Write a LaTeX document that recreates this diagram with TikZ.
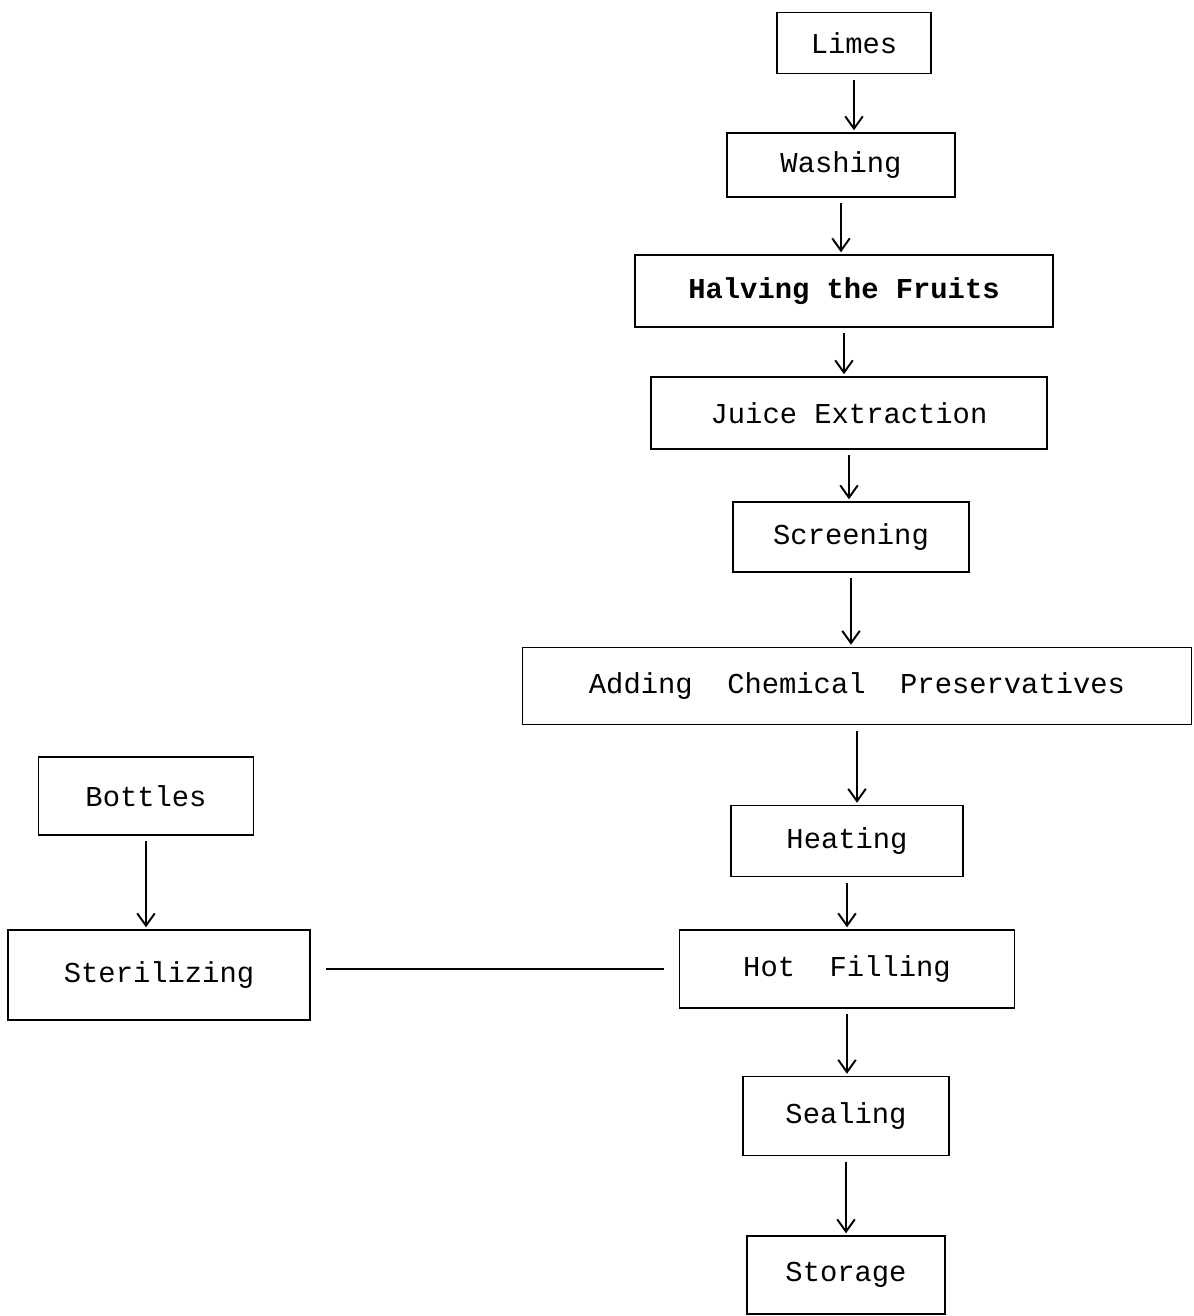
\documentclass[tikz,border=0pt]{standalone}
\usepackage{fontspec}
\setmonofont{Liberation Mono}
\usetikzlibrary{arrows.meta}
\begin{document}
\begin{tikzpicture}[
  proc/.style={draw,line width=1.1pt,inner sep=0pt,font=\ttfamily\fontsize{16.4}{19}\selectfont},
  flow/.style={line width=1.1pt,-{Straight Barb[length=7pt,width=10pt]},shorten <=3pt,shorten >=1pt}]
\useasboundingbox (0,0) rectangle (23.88,-26.32);
% main line
\node[proc,minimum width=3.08cm,minimum height=1.22cm] (limes) at (17.08,-0.86) {Limes};
\node[proc,minimum width=4.56cm,minimum height=1.28cm] (washing) at (16.82,-3.30) {Washing};
\node[proc,minimum width=8.36cm,minimum height=1.44cm,font=\ttfamily\bfseries\fontsize{16.4}{19}\selectfont] (halving) at (16.88,-5.82) {Halving the Fruits};
\node[proc,minimum width=7.92cm,minimum height=1.44cm] (juice) at (16.98,-8.26) {Juice Extraction};
\node[proc,minimum width=4.72cm,minimum height=1.40cm] (screening) at (17.02,-10.74) {Screening};
\node[proc,minimum width=13.38cm,minimum height=1.54cm] (adding) at (17.14,-13.72) {Adding\ \ Chemical\ \ Preservatives};
\node[proc,minimum width=4.64cm,minimum height=1.42cm] (heating) at (16.94,-16.82) {Heating};
\node[proc,minimum width=6.70cm,minimum height=1.56cm] (hotfill) at (16.94,-19.38) {Hot\ \ Filling};
\node[proc,minimum width=4.12cm,minimum height=1.58cm] (sealing) at (16.92,-22.32) {Sealing};
\node[proc,minimum width=3.96cm,minimum height=1.56cm] (storage) at (16.92,-25.50) {Storage};
% bottles
\node[proc,minimum width=4.30cm,minimum height=1.56cm] (bottles) at (2.92,-15.92) {Bottles};
\node[proc,minimum width=6.04cm,minimum height=1.80cm] (steril) at (3.18,-19.50) {Sterilizing};
% arrows
\draw[flow] (limes) -- (limes |- washing.north);
\draw[flow] (washing) -- (washing |- halving.north);
\draw[flow] (halving) -- (halving |- juice.north);
\draw[flow] (juice) -- (juice |- screening.north);
\draw[flow] (screening) -- (screening |- adding.north);
\draw[flow] (adding) -- (adding |- heating.north);
\draw[flow] (heating) -- (heating |- hotfill.north);
\draw[flow] (hotfill) -- (hotfill |- sealing.north);
\draw[flow] (sealing) -- (sealing |- storage.north);
\draw[flow] (bottles) -- (bottles |- steril.north);
\draw[line width=1.1pt,shorten <=0.3cm,shorten >=0.3cm] (hotfill.west) -- (hotfill.west -| steril.east);
\end{tikzpicture}
\end{document}
